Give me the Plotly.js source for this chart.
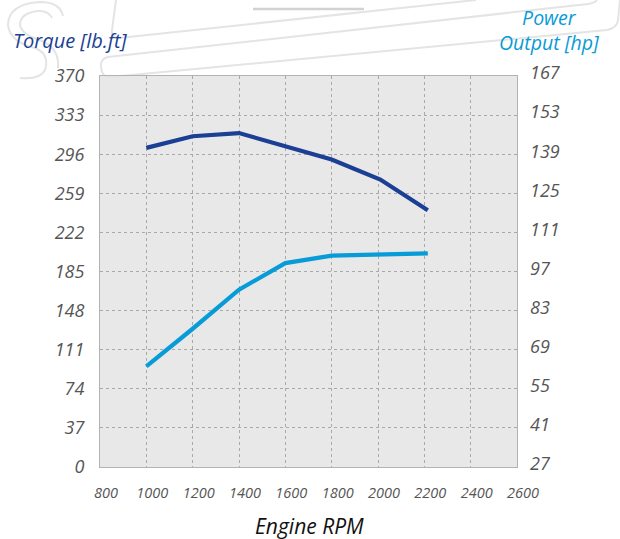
<!DOCTYPE html>
<html>
<head>
<meta charset="utf-8">
<script src="https://cdn.plot.ly/plotly-3.0.1.min.js"></script>
<style>html,body{margin:0;padding:0;background:#fff;}#chart{width:620px;height:539px;}</style>
</head>
<body>
<div id="chart"></div>
<script>
// ---- data ----
const rpm = [1000, 1200, 1400, 1600, 1800, 2010, 2215];
const torqueLbFt = [302, 313, 316, 303, 291, 272, 243];
const powerHp = [63, 76.5, 90.5, 100, 102.7, 103.2, 103.5];
const xTicks = [800, 1000, 1200, 1400, 1600, 1800, 2000, 2200, 2400, 2600];
const torqueTicks = [0, 37, 74, 111, 148, 185, 222, 259, 296, 333, 370];
const powerTicks = [27, 41, 55, 69, 83, 97, 111, 125, 139, 153, 167];

// ---- layout geometry ----
const W = 620, H = 539;
const M = {l: 100, r: 103, t: 76, b: 72};
const PW = W - M.l - M.r, PH = H - M.t - M.b;
const px = (x) => (x - M.l) / PW;
const py = (y) => (H - M.b - y) / PH;
function path(cmds) {
  return cmds.map(c => {
    const L = c[0];
    const pts = [];
    for (let i = 1; i < c.length; i += 2) pts.push(px(c[i]).toFixed(4) + ',' + py(c[i + 1]).toFixed(4));
    return L + ' ' + pts.join(' ');
  }).join(' ');
}

const font = "'Open Sans', 'Noto Sans', sans-serif";
const wmColor = '#e4e4e4';

const shapes = [
  // watermark decoration
  {type: 'path', xref: 'paper', yref: 'paper', layer: 'below', line: {color: '#d2d2d2', width: 2.5},
   path: path([['M', 253, 9], ['L', 364, 9]])},
  {type: 'path', xref: 'paper', yref: 'paper', layer: 'below', line: {color: wmColor, width: 2},
   path: path([['M', 116, 0], ['L', 112, 30], ['Q', 111, 38, 119, 38], ['L', 476, 0]])},
  {type: 'path', xref: 'paper', yref: 'paper', layer: 'below', line: {color: wmColor, width: 2},
   path: path([['M', 597, 0], ['Q', 595, 3, 588, 4], ['L', 108, 57], ['Q', 100, 59, 101, 67],
               ['Q', 102, 78, 110, 77], ['L', 607, 30], ['Q', 617, 28, 618, 20], ['L', 620, 0]])},
  {type: 'path', xref: 'paper', yref: 'paper', layer: 'below', line: {color: wmColor, width: 2},
   path: path([['M', 63, 16], ['Q', 60, 2, 40, 2], ['Q', 8, 4, 8, 25], ['Q', 10, 42, 35, 48],
               ['Q', 50, 54, 45, 70], ['Q', 40, 80, 20, 78]])},
  {type: 'path', xref: 'paper', yref: 'paper', layer: 'below', line: {color: wmColor, width: 2},
   path: path([['M', 52, 18], ['Q', 48, 10, 38, 11], ['Q', 20, 13, 20, 25], ['Q', 22, 35, 40, 40],
               ['Q', 60, 48, 58, 68]])}
];

const traces = [
  {x: rpm, y: torqueLbFt, type: 'scatter', mode: 'lines', name: 'Torque',
   line: {color: '#1b3f95', width: 4.2}, yaxis: 'y', hoverinfo: 'skip'},
  {x: rpm, y: powerHp, type: 'scatter', mode: 'lines', name: 'Power',
   line: {color: '#079bd8', width: 4.2}, yaxis: 'y2', hoverinfo: 'skip'}
];

const layout = {
  width: W, height: H,
  margin: M,
  paper_bgcolor: '#ffffff',
  plot_bgcolor: '#e8e8e8',
  showlegend: false,
  font: {family: font, color: '#555555'},
  xaxis: {
    range: [800, 2600], tickvals: xTicks, ticktext: xTicks.map(String),
    showgrid: true, gridcolor: '#a9a9a9', griddash: 'dot', gridwidth: 1,
    showline: true, linecolor: '#b3b3b3', linewidth: 1, mirror: true,
    zeroline: false, ticks: '',
    tickfont: {family: font, size: 14.5, color: '#555555', style: 'italic'},
    ticklabelstandoff: 13, ticklabelshift: 6
  },
  yaxis: {
    range: [0, 370], tickvals: torqueTicks, ticktext: torqueTicks.map(String),
    showgrid: true, gridcolor: '#a9a9a9', griddash: 'dot', gridwidth: 1,
    showline: true, linecolor: '#b3b3b3', linewidth: 1, mirror: true,
    zeroline: false, ticks: '',
    tickfont: {family: font, size: 18, color: '#555555', style: 'italic'},
    ticklabelstandoff: 11
  },
  yaxis2: {
    range: [27, 167], tickvals: powerTicks, ticktext: powerTicks.map(String),
    overlaying: 'y', side: 'right', showgrid: false, zeroline: false, ticks: '',
    showline: false,
    tickfont: {family: font, size: 18, color: '#555555', style: 'italic'},
    ticklabelstandoff: 12, ticklabelshift: -3
  },
  shapes: shapes,
  annotations: [
    {text: 'Torque [lb.ft]', xref: 'paper', yref: 'paper', x: px(11), y: py(41),
     xanchor: 'left', yanchor: 'middle', showarrow: false,
     font: {family: font, size: 20, color: '#1b3f95', style: 'italic'}},
    {text: 'Power<br>Output [hp]', xref: 'paper', yref: 'paper', x: px(549), y: py(30),
     xanchor: 'center', yanchor: 'middle', align: 'center', showarrow: false,
     font: {family: font, size: 19.5, color: '#079bd8', style: 'italic'}},
    {text: 'Engine RPM', xref: 'paper', yref: 'paper', x: px(309), y: py(526),
     xanchor: 'center', yanchor: 'middle', showarrow: false,
     font: {family: font, size: 21, color: '#111111', style: 'italic'}}
  ]
};

Plotly.newPlot('chart', traces, layout, {displayModeBar: false, staticPlot: true});
</script>
</body>
</html>
